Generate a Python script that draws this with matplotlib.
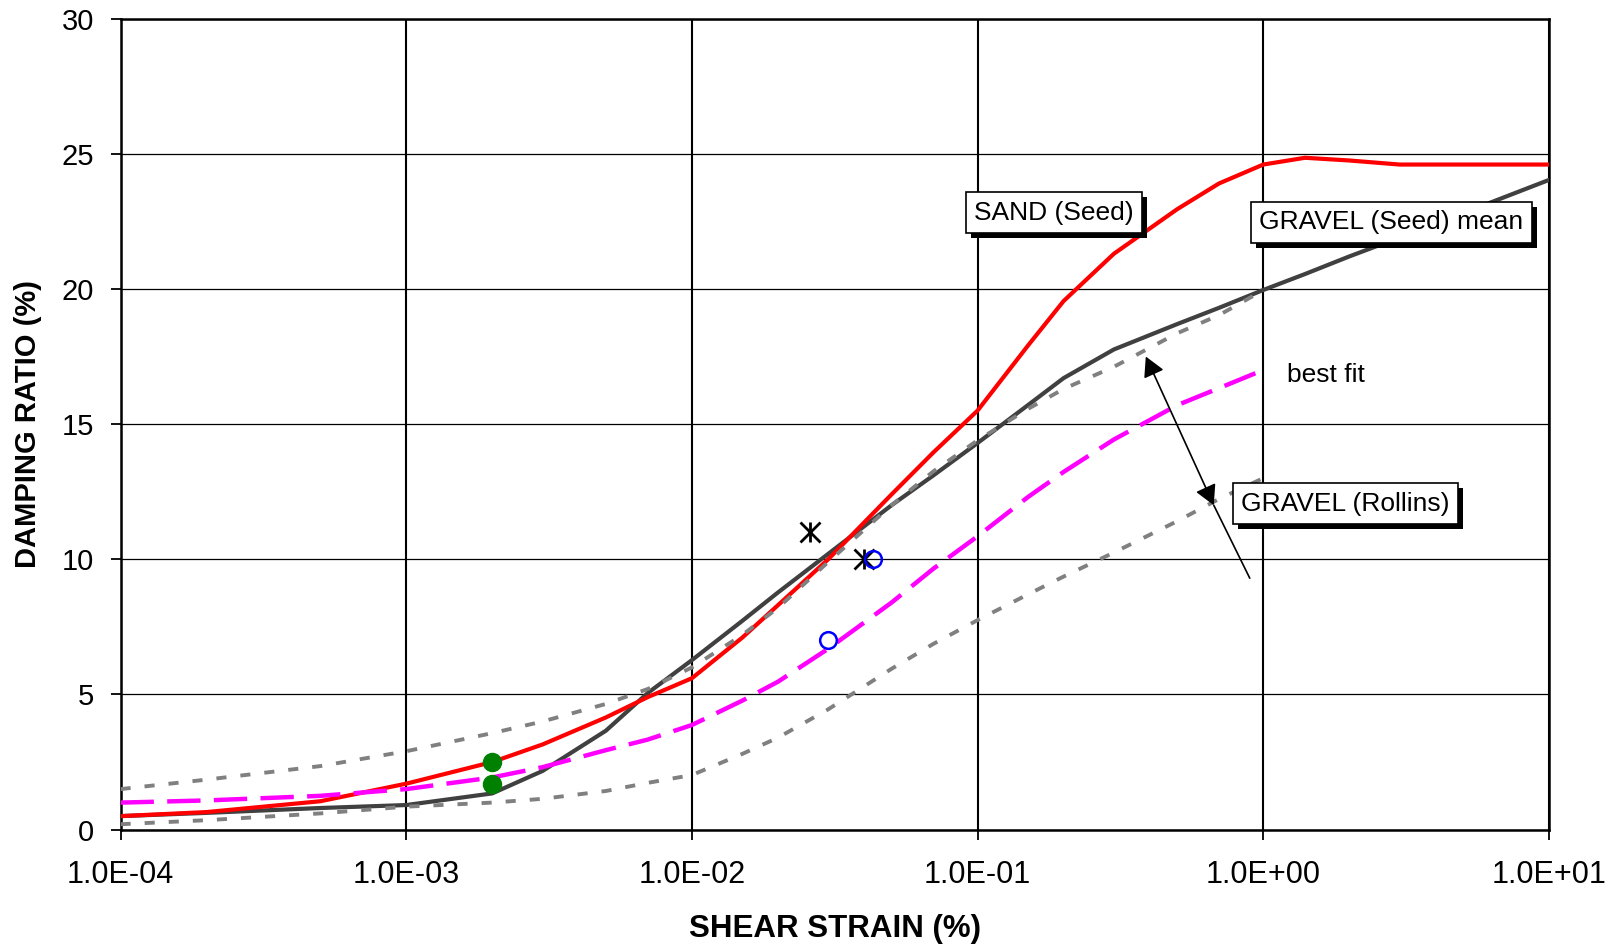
import numpy as np
import matplotlib
matplotlib.use('Agg')
import matplotlib.pyplot as plt
import matplotlib.patheffects as pe
from matplotlib.ticker import FixedLocator, FuncFormatter, NullLocator

plt.rcParams['font.family'] = ['Liberation Sans', 'DejaVu Sans']

# shear strain (%) values the curves were read at
strain = [1e-4, 2e-4, 5e-4, 1e-3, 2e-3, 3e-3, 5e-3, 7e-3, 1e-2, 1.5e-2, 2e-2,
          3e-2, 5e-2, 7e-2, 1e-1, 0.15, 0.2, 0.3, 0.5, 0.7, 1.0]
strain_long = strain + [1.4, 2.0, 3.0, 5.0, 10.0]

# damping ratio (%)
sand_seed = [0.5, 0.65, 1.05, 1.7, 2.5, 3.15, 4.15, 4.9, 5.6, 7.1, 8.3,
             10.0, 12.4, 13.95, 15.5, 17.9, 19.55, 21.3, 22.95, 23.9, 24.6,
             24.85, 24.75, 24.6, 24.6, 24.6]
gravel_seed_mean = [0.5, 0.62, 0.8, 0.91, 1.34, 2.17, 3.66, 5.05, 6.27, 7.72, 8.77,
                    10.2, 12.0, 13.1, 14.3, 15.7, 16.7, 17.76, 18.7, 19.3, 19.96,
                    20.55, 21.2, 21.9, 22.8, 24.03]
rollins_upper = [1.5, 1.85, 2.35, 2.9, 3.57, 4.0, 4.65, 5.2, 6.0, 7.2, 8.2,
                 9.9, 12.0, 13.25, 14.4, 15.56, 16.3, 17.12, 18.36, 19.03, 19.95]
rollins_lower = [0.2, 0.35, 0.6, 0.85, 1.0, 1.14, 1.43, 1.73, 2.02, 2.8, 3.4,
                 4.45, 5.95, 6.87, 7.75, 8.7, 9.36, 10.25, 11.41, 12.23, 13.0]
best_fit = [1.0, 1.08, 1.25, 1.5, 1.93, 2.31, 2.94, 3.33, 3.87, 4.77, 5.47,
            6.69, 8.4, 9.65, 10.85, 12.3, 13.23, 14.43, 15.7, 16.33, 17.0]

# single test points
green_x = [2e-3, 2e-3]
green_y = [2.5, 1.7]
star_x = [0.0259, 0.04]
star_y = [11.0, 10.0]
blue_x = [0.043, 0.03]
blue_y = [10.0, 7.0]

xticks = [1e-4, 1e-3, 1e-2, 1e-1, 1e0, 1e1]
yticks = [0, 5, 10, 15, 20, 25, 30]

fig = plt.figure(figsize=(16.16, 9.46), dpi=100)
ax = fig.add_axes([0.0746, 0.1230, 0.8839, 0.8574])

ax.plot(strain_long, gravel_seed_mean, color='#404040', lw=3.0, zorder=3)
ax.plot(strain_long, sand_seed, color='#FF0000', lw=3.0, zorder=3)
ax.plot(strain, rollins_upper, color='#808080', lw=2.8, ls=(0, (2.6, 3.6)), zorder=4)
ax.plot(strain, rollins_lower, color='#808080', lw=2.8, ls=(0, (2.6, 3.6)), zorder=4)
ax.plot(strain, best_fit, color='#FF00FF', lw=3.2, ls=(0, (7.5, 3.0)), zorder=4)

ax.plot(green_x, green_y, 'o', color='#008000', ms=13, zorder=5)
ax.plot(star_x, star_y, 'x', color='k', ms=14, mew=2, zorder=5)
ax.plot(star_x, star_y, '|', color='k', ms=14, mew=2, zorder=5)
ax.plot(blue_x, blue_y, 'o', mfc='none', mec='#0000FF', ms=12, mew=1.8, zorder=5)

ax.set_xscale('log')
ax.set_xlim(1e-4, 1e1)
ax.set_ylim(0, 30)
ax.xaxis.set_major_locator(FixedLocator(xticks))
ax.xaxis.set_minor_locator(NullLocator())
ax.xaxis.set_major_formatter(FuncFormatter(lambda v, p: f"{v:.1E}"))
ax.set_yticks(yticks)

ax.grid(True, axis='x', color='k', lw=1.5, zorder=1)
ax.grid(True, axis='y', color='k', lw=0.9, zorder=1)
ax.set_axisbelow(True)
for s in ax.spines.values():
    s.set_linewidth(1.8)

ax.tick_params(axis='x', direction='out', length=7, width=1.3, labelsize=22, pad=15)
ax.tick_params(axis='y', direction='out', length=7, width=1.3, labelsize=21, pad=12)

ax.set_xlabel('SHEAR STRAIN (%)', fontsize=22.5, fontweight='bold')
ax.set_ylabel('DAMPING RATIO (%)', fontsize=21, fontweight='bold')
ax.xaxis.label.set_va('center')
ax.yaxis.label.set_va('center')
ax.xaxis.set_label_coords(0.5, -0.122)
ax.yaxis.set_label_coords(-0.065, 0.5)

box = dict(boxstyle='square,pad=0.32', fc='white', ec='k', lw=1.2)
shadow = [pe.SimplePatchShadow(offset=(3.6, -3.6), shadow_rgbFace='k', alpha=1), pe.Normal()]
labels = [('SAND (Seed)', 0.185, 22.82),
          ('GRAVEL (Seed) mean', 2.81, 22.46),
          ('GRAVEL (Rollins)', 1.94, 12.05)]
for txt, lx, ly in labels:
    t = ax.text(lx, ly, txt, fontsize=19, ha='center', va='center', bbox=box, zorder=6)
    t.get_bbox_patch().set_path_effects(shadow)

ax.text(1.21, 16.82, 'best fit', fontsize=19, ha='left', va='center', zorder=6)

ax.annotate('', xy=(0.388, 17.5), xytext=(0.671, 12.0),
            arrowprops=dict(arrowstyle='<|-|>,head_length=0.55,head_width=0.3',
                            color='k', lw=1.2, mutation_scale=22, shrinkA=0, shrinkB=0),
            zorder=6)
ax.annotate('', xy=(0.671, 12.0), xytext=(0.897, 9.3),
            arrowprops=dict(arrowstyle='-', color='k', lw=1.2, shrinkA=0, shrinkB=0),
            zorder=6)

fig.savefig('out.png', dpi=100)
